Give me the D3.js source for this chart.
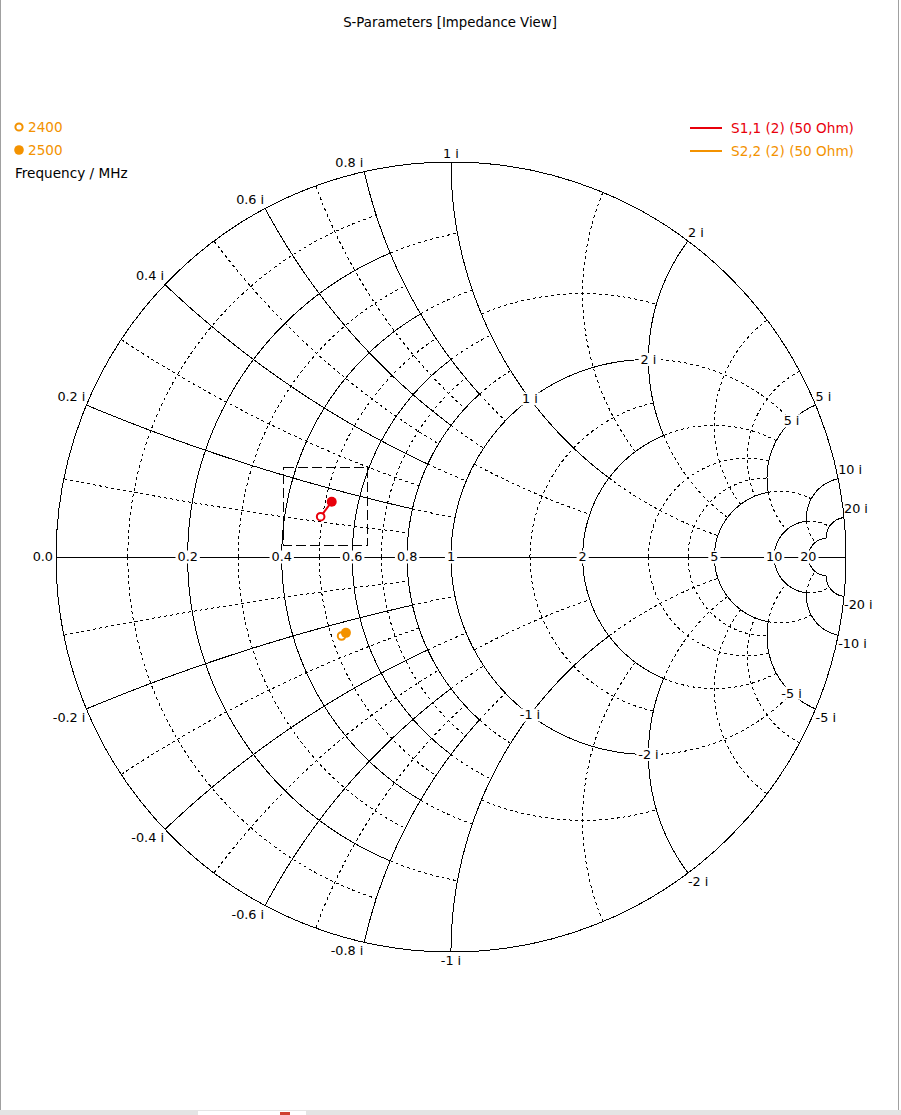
<!DOCTYPE html>
<html>
<head>
<meta charset="utf-8">
<script src="https://cdn.jsdelivr.net/npm/d3@7"></script>
<style>
  body { margin: 0; background: #fff; }
  svg { display: block; font-family: "DejaVu Sans", sans-serif; font-size: 12.8px; }
</style>
</head>
<body>
<div id="chart"></div>
<script>
// frequencies (MHz) and reflection coefficients
const freqs = [2400, 2500];
const s11Re = [-0.330, -0.302];
const s11Im = [0.102, 0.140];
const s22Re = [-0.277, -0.266];
const s22Im = [-0.200, -0.192];
const seriesNames = ["S1,1 (2) (50 Ohm)", "S2,2 (2) (50 Ohm)"];
const seriesColors = ["#e8000b", "#f39200"];

// grid values
const realTicks = [0.2, 0.4, 0.6, 0.8, 1, 2, 5, 10, 20];
const rimTicks = [0.2, 0.4, 0.6, 0.8, 1, 2, 5, 10, 20];
const innerTicks = [1, 2, 5];           // labelled on the r = 1 circle
const gridExtent = [0.8, 1, 2, 5, 10, 20];
const gridMinor = [[0.1, 0.3, 0.5, 0.7], [0.2, 0.4, 0.6, 0.8], [0.5, 1.5], [1, 2, 3, 4], [5], [10]];
const gridMajor = [[0.2, 0.4, 0.6, 0.8], [], [1, 2], [5], [10], [20]];
const zoomBox = [-0.425, 0.030, -0.213, 0.228]; // re0, im0, re1, im1

const W = 901, H = 1115;
const svg = d3.select("#chart").append("svg").attr("width", W).attr("height", H);

const x = d3.scaleLinear().domain([-1, 1]).range([56, 846]);
const y = d3.scaleLinear().domain([-1, 1]).range([952, 162]);
const line = d3.line().x(d => x(d[0])).y(d => y(d[1]));

// reflection coefficient of z = r + jx
function gam(r, xv) {
  const den = (r + 1) * (r + 1) + xv * xv;
  return [(r * r + xv * xv - 1) / den, 2 * xv / den];
}

// points along a constant-r (kind 'r') or constant-x (kind 'x') arc
function arcPoints(kind, v, a, b) {
  let c, rad, p0, p1;
  if (kind === "r") { c = [v / (1 + v), 0]; rad = 1 / (1 + v); p0 = gam(v, a); p1 = gam(v, b); }
  else { c = [1, 1 / v]; rad = 1 / v; p0 = gam(a, v); p1 = gam(b, v); }
  const t0 = Math.atan2(p0[1] - c[1], p0[0] - c[0]);
  let d = Math.atan2(p1[1] - c[1], p1[0] - c[0]) - t0;
  if (d > Math.PI) d -= 2 * Math.PI;
  if (d < -Math.PI) d += 2 * Math.PI;
  return d3.range(81).map(i => {
    const t = t0 + d * i / 80;
    return [c[0] + rad * Math.cos(t), c[1] + rad * Math.sin(t)];
  });
}

// build the nested grid: each level fills the square [0, E] minus the finer level
const segs = [];
gridExtent.forEach((E, i) => {
  const prev = i ? gridExtent[i - 1] : 0;
  const before = new Set(gridMinor.slice(0, i).flat().concat(gridMajor.slice(0, i).flat()));
  const add = (v, solid) => {
    const from = (v < prev || before.has(v)) ? prev : 0;
    ["r", "x"].forEach(k => segs.push({ k, v, from, to: E, solid }));
  };
  gridMinor[i].forEach(v => add(v, false));
  gridMajor[i].forEach(v => add(v, true));
});

const grid = svg.append("g").attr("fill", "none").attr("stroke", "#000")
  .attr("stroke-width", 1).attr("shape-rendering", "crispEdges");

segs.forEach(s => {
  const pts = arcPoints(s.k, s.v, s.from, s.to);
  [1, -1].forEach(sg => {
    grid.append("path")
      .attr("d", line(pts.map(p => [p[0], p[1] * sg])))
      .attr("stroke-dasharray", s.solid ? null : "3,3");
  });
});

// outer circle and real axis
grid.append("circle").attr("cx", x(0)).attr("cy", y(0)).attr("r", x(1) - x(0));
grid.append("line").attr("x1", x(-1)).attr("x2", x(1)).attr("y1", y(0) + 0.5).attr("y2", y(0) + 0.5);

// zoom rectangle
svg.append("rect")
  .attr("x", Math.round(x(zoomBox[0])) + 0.5).attr("y", Math.round(y(zoomBox[3])) + 0.5)
  .attr("width", Math.round(x(zoomBox[2]) - x(zoomBox[0])))
  .attr("height", Math.round(y(zoomBox[1]) - y(zoomBox[3])))
  .attr("fill", "none").attr("stroke", "#000").attr("stroke-dasharray", "10,4")
  .attr("shape-rendering", "crispEdges");

// labels; some sit on a white box that cuts the grid
const labels = svg.append("g").attr("fill", "#000");
function boxed(t, pad) {
  const b = t.node().getBBox();
  labels.insert("rect", () => t.node())
    .attr("x", b.x - pad).attr("y", b.y + 1).attr("width", b.width + 2 * pad)
    .attr("height", b.height - 2).attr("fill", "#fff");
}

labels.append("text").attr("x", x(-1) - 3).attr("y", y(0)).attr("dy", "0.35em")
  .attr("text-anchor", "end").text("0.0");

realTicks.forEach(v => {
  const t = labels.append("text")
    .attr("x", x(gam(v, 0)[0])).attr("y", y(0)).attr("dy", "0.35em")
    .attr("text-anchor", "middle").text(v);
  boxed(t, 2);
});

rimTicks.forEach(v => {
  [1, -1].forEach(sg => {
    const p = gam(0, v * sg);
    const px = x(p[0]), py = y(p[1]);
    const anchor = px < x(0) - 5 ? "end" : (px > x(0) + 5 ? "start" : "middle");
    labels.append("text")
      .attr("x", anchor === "end" ? px - 1 : px)
      .attr("y", sg > 0 ? py - 4.5 : py + 13)
      .attr("text-anchor", anchor)
      .text((sg < 0 ? "-" : "") + v + " i");
  });
});

innerTicks.forEach(v => {
  [1, -1].forEach(sg => {
    const p = gam(1, v * sg);
    const t = labels.append("text")
      .attr("x", x(p[0])).attr("y", y(p[1])).attr("dy", "0.35em")
      .attr("text-anchor", "middle")
      .text((sg < 0 ? "-" : "") + v + " i");
    boxed(t, 2);
  });
});

// traces
const series = [[s11Re, s11Im], [s22Re, s22Im]];
series.forEach((s, k) => {
  const pts = freqs.map((f, i) => [s[0][i], s[1][i]]);
  const col = seriesColors[k];
  svg.append("path").attr("d", line(pts)).attr("fill", "none")
    .attr("stroke", col).attr("stroke-width", 2);
  svg.append("circle").attr("cx", x(pts[0][0])).attr("cy", y(pts[0][1])).attr("r", 3.8)
    .attr("fill", "#fff").attr("stroke", col).attr("stroke-width", 2);
  svg.append("circle").attr("cx", x(pts[1][0])).attr("cy", y(pts[1][1])).attr("r", 5)
    .attr("fill", col);
});

// title
svg.append("text").attr("x", 450).attr("y", 27).attr("text-anchor", "middle")
  .style("font-size", "13.3px").text("S-Parameters [Impedance View]");

// frequency legend (top left)
const markCol = seriesColors[1];
freqs.forEach((f, i) => {
  const cy = 127 + i * 23;
  const m = svg.append("circle").attr("cx", 19).attr("cy", cy);
  if (i === 0) m.attr("r", 3.6).attr("fill", "#fff").attr("stroke", markCol).attr("stroke-width", 2);
  else m.attr("r", 4.8).attr("fill", markCol);
  svg.append("text").attr("x", 28).attr("y", cy).attr("dy", "0.35em")
    .style("font-size", "13.6px").attr("fill", markCol).text(f);
});
svg.append("text").attr("x", 15).attr("y", 173).attr("dy", "0.35em")
  .style("font-size", "13.6px").text("Frequency / MHz");

// series legend (top right)
seriesNames.forEach((n, i) => {
  const cy = 128 + i * 23;
  svg.append("line").attr("x1", 690).attr("x2", 722).attr("y1", cy).attr("y2", cy)
    .attr("stroke", seriesColors[i]).attr("stroke-width", 2);
  svg.append("text").attr("x", 731).attr("y", cy).attr("dy", "0.35em")
    .style("font-size", "13.6px").attr("fill", seriesColors[i]).text(n);
});

// window frame
const frame = svg.append("g").attr("stroke", "#a0a0a0").attr("fill", "none");
frame.append("line").attr("x1", 0.5).attr("x2", 0.5).attr("y1", 0).attr("y2", 1111);
frame.append("line").attr("x1", 898.5).attr("x2", 898.5).attr("y1", 0).attr("y2", 1111);
svg.append("rect").attr("x", 0).attr("y", 1110).attr("width", W).attr("height", 5).attr("fill", "#e4e4e4");
frame.append("line").attr("x1", 0).attr("x2", 899).attr("y1", 1110.5).attr("y2", 1110.5);
svg.append("rect").attr("x", 198).attr("y", 1111).attr("width", 108).attr("height", 4).attr("fill", "#fff");
svg.append("rect").attr("x", 280).attr("y", 1112).attr("width", 10).attr("height", 3).attr("fill", "#d04030");
</script>
</body>
</html>
